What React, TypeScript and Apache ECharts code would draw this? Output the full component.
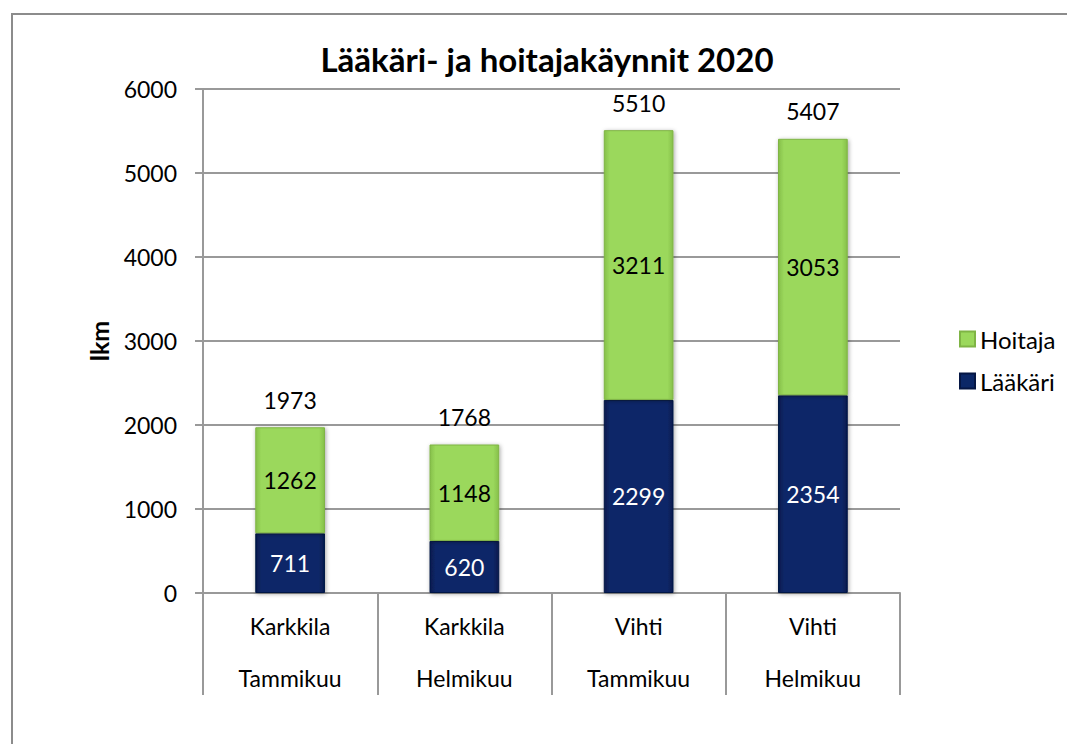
import React, { useEffect, useRef } from "react";
import * as echarts from "echarts";

const categories = ["Karkkila\n\nTammikuu", "Karkkila\n\nHelmikuu", "Vihti\n\nTammikuu", "Vihti\n\nHelmikuu"];
const laakari = [711, 620, 2299, 2354];
const hoitaja = [1262, 1148, 3211, 3053];
const totals = laakari.map((v, i) => v + hoitaja[i]);
const yTicks = { min: 0, max: 6000, interval: 1000 };

const FONT = "Lato";

export default function App() {
  const ref = useRef<HTMLDivElement>(null);
  useEffect(() => {
    const chart = echarts.init(ref.current!, undefined, { renderer: "svg" });
    const green = {
      type: "linear", x: 0, y: 0, x2: 1, y2: 0,
      colorStops: [
        { offset: 0, color: "#86c04a" },
        { offset: 0.08, color: "#9bd85c" },
        { offset: 0.92, color: "#9bd85c" },
        { offset: 1, color: "#86c04a" },
      ],
    };
    const navy = {
      type: "linear", x: 0, y: 0, x2: 1, y2: 0,
      colorStops: [
        { offset: 0, color: "#061a4d" },
        { offset: 0.08, color: "#0b2767" },
        { offset: 0.92, color: "#0b2767" },
        { offset: 1, color: "#061a4d" },
      ],
    };
    chart.setOption({
      animation: false,
      textStyle: { fontFamily: FONT },
      title: {
        text: "Lääkäri- ja hoitajakäynnit 2020",
        left: 542,
        textAlign: "center",
        top: 37,
        textStyle: { fontFamily: FONT, fontWeight: "bold", fontSize: 33, color: "#000" },
      },
      graphic: [
        {
          type: "rect",
          shape: { x: 12, y: 14, width: 1200, height: 900 },
          style: { fill: "none", stroke: "#8c8c8c", lineWidth: 2 },
          silent: true,
        },
      ],
      legend: {
        orient: "vertical",
        left: 954,
        top: 322,
        itemWidth: 15,
        itemHeight: 15,
        itemGap: 18,
        icon: "rect",
        data: ["Hoitaja", "Lääkäri"],
        textStyle: { fontFamily: FONT, fontSize: 24, color: "#000" },
      },
      grid: { left: 203, right: 167, top: 89, bottom: 151 },
      xAxis: {
        type: "category",
        data: categories,
        axisLine: { lineStyle: { color: "#999", width: 2 } },
        axisTick: { show: true, length: 102, interval: 0, lineStyle: { color: "#999", width: 2 } },
        axisLabel: {
          interval: 0,
          margin: 20,
          lineHeight: 26,
          fontSize: 23,
          color: "#000",
          fontFamily: FONT,
        },
      },
      yAxis: {
        type: "value",
        min: yTicks.min,
        max: yTicks.max,
        interval: yTicks.interval,
        name: "lkm",
        nameLocation: "middle",
        nameGap: 92,
        nameRotate: 90,
        nameTextStyle: { fontFamily: FONT, fontWeight: "bold", fontSize: 25, color: "#000" },
        axisLine: { show: true, lineStyle: { color: "#999", width: 2 } },
        axisTick: { show: true, length: 8, lineStyle: { color: "#999", width: 2 } },
        splitLine: { lineStyle: { color: "#999", width: 2 } },
        axisLabel: {
          fontSize: 23,
          color: "#000",
          margin: 26,
          fontFamily: FONT,
          formatter: (v: number) => String(v),
        },
      },
      series: [
        {
          name: "Lääkäri",
          type: "bar",
          stack: "s",
          barWidth: "40%",
          data: laakari,
          itemStyle: {
            color: navy,
            borderColor: "#051644",
            borderWidth: 1,
            shadowColor: "rgba(0,0,0,0.35)",
            shadowBlur: 4,
            shadowOffsetX: 1,
            shadowOffsetY: 1,
          },
          label: { show: true, position: "inside", color: "#fff", fontSize: 23, fontFamily: FONT },
        },
        {
          name: "Hoitaja",
          type: "bar",
          stack: "s",
          barWidth: "40%",
          data: hoitaja,
          itemStyle: {
            color: green,
            borderColor: "#7fb445",
            borderWidth: 1,
            shadowColor: "rgba(0,0,0,0.35)",
            shadowBlur: 4,
            shadowOffsetX: 1,
            shadowOffsetY: 1,
          },
          label: { show: true, position: "inside", color: "#000", fontSize: 23, fontFamily: FONT },
        },
        {
          name: "total",
          type: "scatter",
          data: totals,
          symbolSize: 0,
          silent: true,
          itemStyle: { opacity: 1 },
          label: {
            show: true,
            position: "top",
            distance: 16,
            color: "#000",
            opacity: 1,
            fontSize: 23,
            fontFamily: FONT,
            formatter: (p: any) => String(p.value),
          },
        },
      ],
    });
    return () => chart.dispose();
  }, []);
  return (
    <div
      ref={ref}
      style={{ position: "absolute", left: 0, top: 0, width: 1067, height: 744, background: "#fff" }}
    />
  );
}
